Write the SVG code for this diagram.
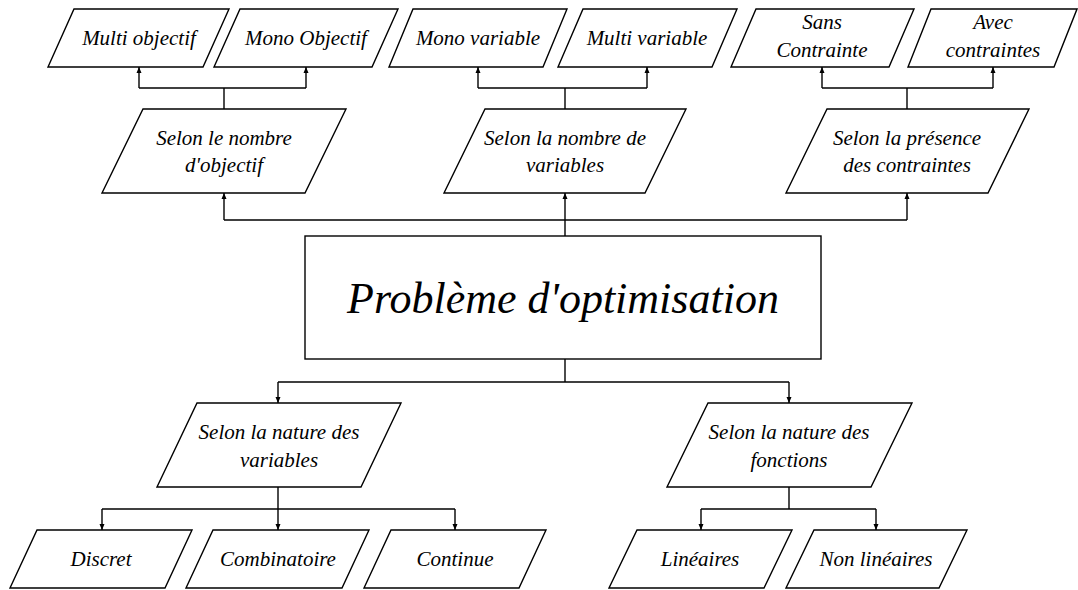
<svg xmlns="http://www.w3.org/2000/svg" width="1078" height="590" viewBox="0 0 1078 590">
  <defs>
    <style>
      .shape { fill: #ffffff; stroke: #000000; stroke-width: 1.4; }
      .label { font-family: 'Liberation Serif', 'Times New Roman', serif; font-style: italic; font-size: 21px; fill: #000000; text-anchor: middle; }
      .title { font-family: 'Liberation Serif', 'Times New Roman', serif; font-style: italic; font-size: 44px; fill: #000000; text-anchor: middle; }
      .link { fill: none; stroke: #000000; stroke-width: 1.4; }
    </style>
    <marker id="tip" viewBox="0 0 6 6" refX="6" refY="3" markerWidth="6" markerHeight="6" markerUnits="userSpaceOnUse" orient="auto">
      <path d="M0,0.5 L6,3 L0,5.5 Z" fill="#000000"/>
    </marker>
  </defs>

  <rect width="1078" height="590" fill="#ffffff"/>

  <!-- connectors -->
  <g id="connectors" class="link">
    <!-- root up to the three upper criteria -->
    <polyline points="565,236 565,220"/>
    <polyline points="224,220 907,220"/>
    <line x1="224" y1="220" x2="224" y2="193" marker-end="url(#tip)"/>
    <line x1="565" y1="220" x2="565" y2="193" marker-end="url(#tip)"/>
    <line x1="907" y1="220" x2="907" y2="193" marker-end="url(#tip)"/>

    <!-- objectives -->
    <polyline points="224,109 224,88"/>
    <polyline points="139,88 306,88"/>
    <line x1="139" y1="88" x2="139" y2="67" marker-end="url(#tip)"/>
    <line x1="306" y1="88" x2="306" y2="67" marker-end="url(#tip)"/>

    <!-- variables count -->
    <polyline points="565,109 565,88"/>
    <polyline points="478,88 647,88"/>
    <line x1="478" y1="88" x2="478" y2="67" marker-end="url(#tip)"/>
    <line x1="647" y1="88" x2="647" y2="67" marker-end="url(#tip)"/>

    <!-- constraints -->
    <polyline points="907,109 907,88"/>
    <polyline points="822,88 993,88"/>
    <line x1="822" y1="88" x2="822" y2="67" marker-end="url(#tip)"/>
    <line x1="993" y1="88" x2="993" y2="67" marker-end="url(#tip)"/>

    <!-- root down to the two lower criteria -->
    <polyline points="565,359 565,382"/>
    <polyline points="278,382 789,382"/>
    <line x1="278" y1="382" x2="278" y2="403" marker-end="url(#tip)"/>
    <line x1="789" y1="382" x2="789" y2="403" marker-end="url(#tip)"/>

    <!-- nature of variables -->
    <polyline points="278,487 278,509"/>
    <polyline points="102,509 455,509"/>
    <line x1="102" y1="509" x2="102" y2="530" marker-end="url(#tip)"/>
    <line x1="278" y1="509" x2="278" y2="530" marker-end="url(#tip)"/>
    <line x1="455" y1="509" x2="455" y2="530" marker-end="url(#tip)"/>

    <!-- nature of functions -->
    <polyline points="789,487 789,509"/>
    <polyline points="701,509 876,509"/>
    <line x1="701" y1="509" x2="701" y2="530" marker-end="url(#tip)"/>
    <line x1="876" y1="509" x2="876" y2="530" marker-end="url(#tip)"/>
  </g>

  <!-- root -->
  <g id="root">
    <rect class="shape" x="305" y="236" width="516" height="123"/>
    <text class="title" x="563" y="313">Problème d'optimisation</text>
  </g>

  <!-- upper criteria -->
  <g id="crit-objectifs">
    <polygon class="shape" points="143,109 346,109 305,193 102,193"/>
    <text class="label" x="224" y="145">Selon le nombre</text>
    <text class="label" x="224" y="172">d'objectif</text>
  </g>
  <g id="crit-variables">
    <polygon class="shape" points="485,109 686,109 645,193 444,193"/>
    <text class="label" x="565" y="145">Selon la nombre de</text>
    <text class="label" x="565" y="172">variables</text>
  </g>
  <g id="crit-contraintes">
    <polygon class="shape" points="827,109 1029,109 988,193 786,193"/>
    <text class="label" x="907" y="145">Selon la présence</text>
    <text class="label" x="907" y="172">des contraintes</text>
  </g>

  <!-- objectives leaves -->
  <g id="multi-objectif">
    <polygon class="shape" points="74,9 229,9 203,67 48,67"/>
    <text class="label" x="139" y="45">Multi objectif</text>
  </g>
  <g id="mono-objectif">
    <polygon class="shape" points="240,9 398,9 372,67 214,67"/>
    <text class="label" x="306" y="45">Mono Objectif</text>
  </g>

  <!-- variable count leaves -->
  <g id="mono-variable">
    <polygon class="shape" points="413,9 567,9 543,67 389,67"/>
    <text class="label" x="478" y="45">Mono variable</text>
  </g>
  <g id="multi-variable">
    <polygon class="shape" points="583,9 737,9 712,67 558,67"/>
    <text class="label" x="647" y="45">Multi variable</text>
  </g>

  <!-- constraint leaves -->
  <g id="sans-contrainte">
    <polygon class="shape" points="756,9 914,9 889,67 731,67"/>
    <text class="label" x="822" y="29">Sans</text>
    <text class="label" x="822" y="57">Contrainte</text>
  </g>
  <g id="avec-contraintes">
    <polygon class="shape" points="931,9 1077,9 1054,67 908,67"/>
    <text class="label" x="993" y="29">Avec</text>
    <text class="label" x="993" y="57">contraintes</text>
  </g>

  <!-- lower criteria -->
  <g id="crit-nature-variables">
    <polygon class="shape" points="197,403 401,403 361,487 157,487"/>
    <text class="label" x="279" y="439">Selon la nature des</text>
    <text class="label" x="279" y="467">variables</text>
  </g>
  <g id="crit-nature-fonctions">
    <polygon class="shape" points="708,403 912,403 871,487 667,487"/>
    <text class="label" x="789" y="439">Selon la nature des</text>
    <text class="label" x="789" y="467">fonctions</text>
  </g>

  <!-- nature of variables leaves -->
  <g id="discret">
    <polygon class="shape" points="37,530 192,530 165,588 10,588"/>
    <text class="label" x="101" y="566">Discret</text>
  </g>
  <g id="combinatoire">
    <polygon class="shape" points="213,530 369,530 342,588 186,588"/>
    <text class="label" x="278" y="566">Combinatoire</text>
  </g>
  <g id="continue">
    <polygon class="shape" points="391,530 546,530 519,588 364,588"/>
    <text class="label" x="455" y="566">Continue</text>
  </g>

  <!-- nature of functions leaves -->
  <g id="lineaires">
    <polygon class="shape" points="637,530 792,530 764,588 609,588"/>
    <text class="label" x="700" y="566">Linéaires</text>
  </g>
  <g id="non-lineaires">
    <polygon class="shape" points="814,530 967,530 939,588 786,588"/>
    <text class="label" x="876" y="566">Non linéaires</text>
  </g>
</svg>
